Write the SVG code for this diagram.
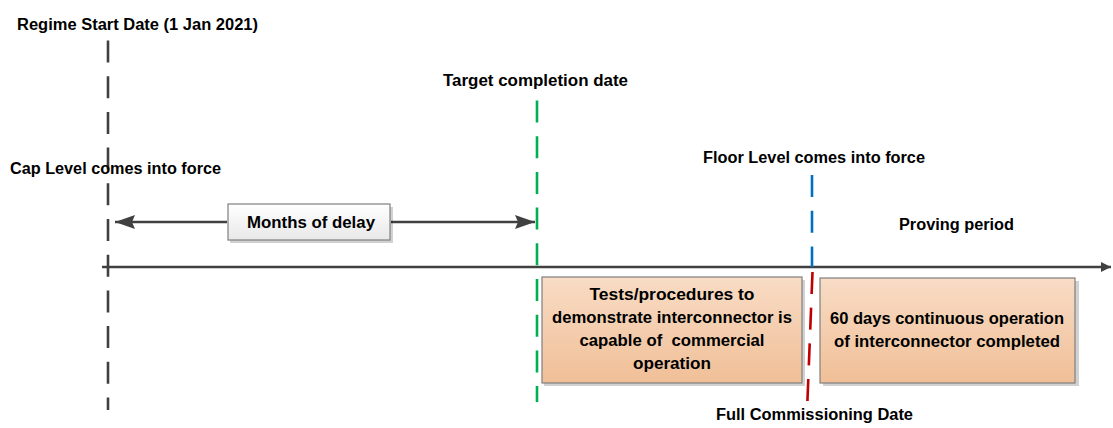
<svg xmlns="http://www.w3.org/2000/svg" width="1113" height="428" viewBox="0 0 1113 428">
<style>
text{font-family:"Liberation Sans",Arial,sans-serif;font-weight:bold;font-size:16px;fill:#000;white-space:pre}
.c{text-anchor:middle}
.dash{fill:none;stroke-width:2.6;stroke-dasharray:22 13.7}
.box{stroke:#7f7f7f;stroke-width:1.2}
.shadow{fill:#000;opacity:0.18}
</style>
<defs>
<linearGradient id="peach" x1="0" y1="0" x2="0" y2="1">
<stop offset="0" stop-color="#f8dcc5"/>
<stop offset="1" stop-color="#f0bf97"/>
</linearGradient>
<linearGradient id="grey" x1="0" y1="0" x2="0" y2="1">
<stop offset="0" stop-color="#ffffff"/>
<stop offset="1" stop-color="#e8e8e8"/>
</linearGradient>
<marker id="ah" viewBox="0 0 10 10" refX="10" refY="5" markerWidth="10" markerHeight="10" markerUnits="userSpaceOnUse" orient="auto-start-reverse">
<path d="M0,0 L10,5 L0,10 Z" fill="#404040"/>
</marker>
<marker id="ah2" viewBox="0 0 20 14" refX="20" refY="7" markerWidth="20" markerHeight="14" markerUnits="userSpaceOnUse" orient="auto-start-reverse">
<path d="M0,0 L20,7 L0,14 L3,7 Z" fill="#404040"/>
</marker>
</defs>
<g id="connectors">
<line id="axis" x1="102" y1="267" x2="1111" y2="267" stroke="#404040" stroke-width="2.6" marker-end="url(#ah)"/>
<line id="regime-line" class="dash" x1="108" y1="40.5" x2="108" y2="410" stroke="#404040"/>
<line id="target-line" class="dash" x1="537" y1="100.5" x2="537" y2="402" stroke="#00b050"/>
<line id="floor-line" class="dash" x1="812" y1="175" x2="812" y2="267" stroke="#0070c0"/>
<line id="fcd-line" class="dash" x1="812.5" y1="272" x2="807" y2="412" stroke="#c00000"/>
<line id="delay-left" x1="227" y1="222" x2="115" y2="222" stroke="#404040" stroke-width="2.4" marker-end="url(#ah2)"/>
<line id="delay-right" x1="391" y1="222" x2="535" y2="222" stroke="#404040" stroke-width="2.4" marker-end="url(#ah2)"/>
</g>
<g id="regime-label"><text x="17" y="30" textLength="241" lengthAdjust="spacingAndGlyphs">Regime Start Date (1 Jan 2021)</text></g>
<g id="cap-label"><text x="10" y="174" textLength="211" lengthAdjust="spacingAndGlyphs">Cap Level comes into force</text></g>
<g id="target-label"><text x="443" y="86" textLength="185" lengthAdjust="spacingAndGlyphs">Target completion date</text></g>
<g id="floor-label"><text x="703" y="163" textLength="222" lengthAdjust="spacingAndGlyphs">Floor Level comes into force</text></g>
<g id="proving-label"><text x="899" y="230" textLength="115" lengthAdjust="spacingAndGlyphs">Proving period</text></g>
<g id="fcd-label"><text x="716" y="420" textLength="197" lengthAdjust="spacingAndGlyphs">Full Commissioning Date</text></g>
<g id="months-box">
<rect class="shadow" x="230" y="207" width="163" height="36"/>
<rect x="228" y="204" width="162" height="36" fill="url(#grey)" class="box"/>
<text class="c" x="311" y="228" textLength="128" lengthAdjust="spacingAndGlyphs">Months of delay</text>
</g>
<g id="tests-box">
<rect class="shadow" x="544" y="280" width="261" height="106"/>
<rect x="542" y="277" width="260" height="106" fill="url(#peach)" class="box"/>
<text class="c" x="672" y="300" textLength="165" lengthAdjust="spacingAndGlyphs">Tests/procedures to</text>
<text class="c" x="672" y="323" textLength="240" lengthAdjust="spacingAndGlyphs">demonstrate interconnector is</text>
<text class="c" x="672" y="346" textLength="185" lengthAdjust="spacingAndGlyphs">capable of  commercial</text>
<text class="c" x="672" y="369" textLength="78" lengthAdjust="spacingAndGlyphs">operation</text>
</g>
<g id="proving-box">
<rect class="shadow" x="823" y="281" width="256" height="105"/>
<rect x="820" y="278" width="255" height="105" fill="url(#peach)" class="box"/>
<text class="c" x="947" y="324" textLength="234" lengthAdjust="spacingAndGlyphs">60 days continuous operation</text>
<text class="c" x="947" y="347" textLength="226" lengthAdjust="spacingAndGlyphs">of interconnector completed</text>
</g>
</svg>
